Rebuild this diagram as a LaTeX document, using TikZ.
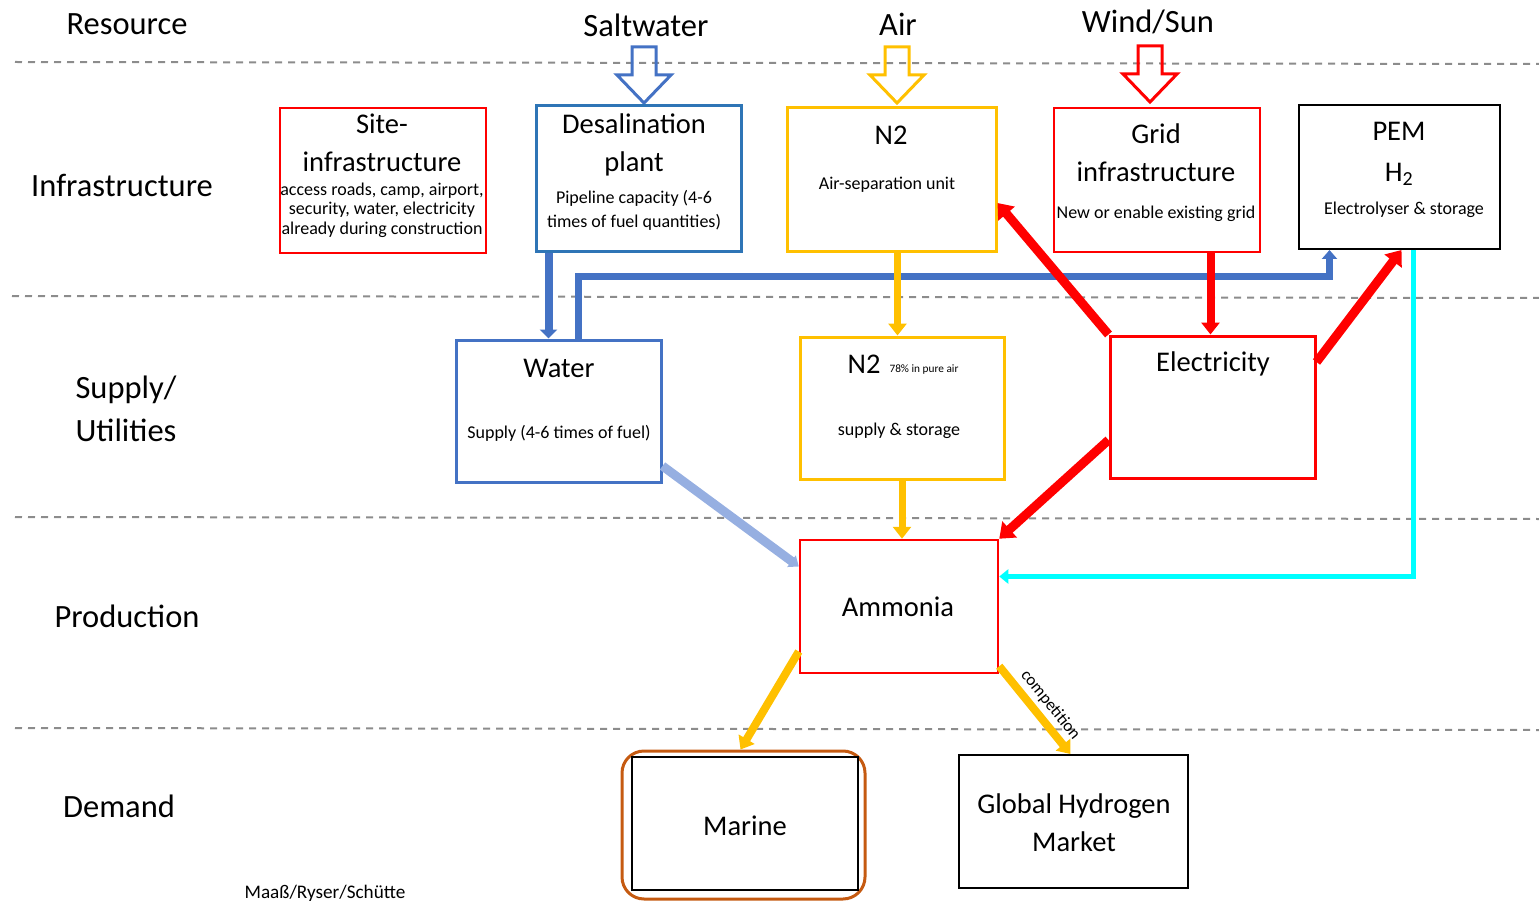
\documentclass[tikz,border=0pt]{standalone}
\usepackage{fontspec}
\setmainfont{Carlito}
\usetikzlibrary{arrows.meta}
\definecolor{pptblue}{RGB}{68,114,196}
\definecolor{deepblue}{RGB}{46,117,182}
\definecolor{hatchblue}{RGB}{150,175,225}
\definecolor{pptyellow}{RGB}{255,192,0}
\definecolor{pptorange}{RGB}{197,90,17}
\definecolor{pptcyan}{RGB}{0,255,255}
\definecolor{sepgray}{RGB}{140,140,140}
\tikzstyle{box}=[draw, line width=2.5, inner sep=0pt]
\tikzstyle{bigtext}=[font=\fontsize{32.5}{38}\selectfont, align=center, inner sep=0pt]
\tikzstyle{titletext}=[font=\fontsize{28.5}{38}\selectfont, align=center, inner sep=0pt]
\tikzstyle{smalltext}=[font=\fontsize{18}{24}\selectfont, align=center, inner sep=0pt]
\tikzstyle{sepline}=[sepgray, line width=2, dash pattern=on 7pt off 6pt]
\tikzstyle{flow}=[line width=7, -{Triangle[length=12pt,width=18pt]}]
\tikzset{resarrow/.pic={\draw[line width=3, line join=miter, #1] (-12,-56) -- (12,-56) -- (12,-28) -- (27,-28) -- (0,0) -- (-27,-28) -- (-12,-28) -- cycle;}}

\begin{document}
\begin{tikzpicture}[x=1pt,y=-1pt]
\useasboundingbox (0,0) rectangle (1539,901);
\draw[sepline] (15,62) -- (1539,64);
\draw[sepline] (12,296) -- (1539,298);
\draw[sepline] (15,517) -- (1539,519);
\draw[sepline] (15,728) -- (1539,730);
% row labels
\node[bigtext] (resource) at (127,24) {Resource};
\node[bigtext] (infra) at (122,185) {Infrastructure};
\node[bigtext, align=left, font=\fontsize{32.5}{43}\selectfont] (supply) at (126,409) {Supply/\\Utilities};
\node[bigtext] (production) at (127,616) {Production};
\node[bigtext] (demand) at (119,806) {Demand};
% resources
\node[bigtext] (salt) at (646,25) {Saltwater};
\node[bigtext] (air) at (898,24) {Air};
\node[bigtext] (windsun) at (1148,22) {Wind/Sun};
\pic at (644,103) {resarrow=pptblue};
\pic at (897,103) {resarrow=pptyellow};
\pic at (1150,102) {resarrow=red};
% infrastructure
\node[box, draw=red, minimum width=206, minimum height=145] (site) at (383,180.5) {};
\node[titletext] (site-t) at (382,143) {Site-\\infrastructure};
\node[smalltext, font=\fontsize{18}{19.5}\selectfont] (site-d) at (382,210) {access roads, camp, airport,\\security, water, electricity\\already during construction};
\node[box, draw=deepblue, line width=3, minimum width=205, minimum height=146] (desal) at (638.5,179) {};
\node[titletext] (desal-t) at (634,145) {Desalination\\plant};
\node[smalltext] (desal-d) at (634,210) {Pipeline capacity (4-6\\times of fuel quantities)};
\node[box, draw=pptyellow, line width=3, minimum width=209, minimum height=144] (asu) at (891.5,180) {};
\node[titletext] (asu-t) at (891,135) {N2};
\node[smalltext] (asu-d) at (887,185) {Air-separation unit};
\node[box, draw=red, minimum width=206, minimum height=144] (grid) at (1157,180) {};
\node[titletext] (grid-t) at (1156,153) {Grid\\infrastructure};
\node[smalltext] (grid-d) at (1156,214) {New or enable existing grid};
\node[box, draw=black, line width=2, minimum width=201, minimum height=144] (pem) at (1399.5,177) {};
\node[titletext, font=\fontsize{28.5}{41}\selectfont] (pem-t) at (1399,154) {PEM\\H\textsubscript{2}};
\node[smalltext] (pem-d) at (1404,210) {Electrolyser \& storage};
% supply
\node[box, draw=pptblue, line width=3, minimum width=205, minimum height=142] (water) at (558.5,411) {};
\node[titletext] (water-t) at (559,368) {Water};
\node[smalltext] (water-d) at (559,433) {Supply (4-6 times of fuel)};
\node[box, draw=pptyellow, line width=3, minimum width=204, minimum height=142] (n2s) at (902,408) {};
\node[titletext] (n2s-t) at (864,364) {N2};
\node[inner sep=0pt, font=\fontsize{11.3}{13}\selectfont] (n2s-n) at (924,370) {78\% in pure air};
\node[smalltext] (n2s-d) at (899,431) {supply \& storage};
\node[box, draw=red, line width=3, minimum width=205, minimum height=142] (elec) at (1212.5,407) {};
\node[titletext] (elec-t) at (1213,364) {Electricity};
% production
\node[box, draw=red, minimum width=198, minimum height=133] (ammonia) at (899,606.5) {};
\node[titletext] (ammonia-t) at (898,607) {Ammonia};
% demand
\node[box, draw=pptorange, line width=3, rounded corners=22, minimum width=243, minimum height=148] (marineout) at (743.5,825) {};
\node[box, draw=black, line width=2, minimum width=226, minimum height=133] (marine) at (745,823.5) {};
\node[titletext] (marine-t) at (745,826) {Marine};
\node[box, draw=black, line width=2, minimum width=229, minimum height=133] (global) at (1073.5,821.5) {};
\node[titletext] (global-t) at (1074,823) {Global Hydrogen\\Market};
\node[smalltext, font=\fontsize{19.2}{22}\selectfont] (credit) at (325,893) {Maaß/Ryser/Schütte};
% flows
\draw[flow, pptblue, line width=8, -{Triangle[length=9pt,width=17pt]}] ([xshift=-10pt]water.north |- desal.south) -- ([xshift=-10pt]water.north);
\draw[flow, pptblue, -{Triangle[length=9pt,width=15pt]}] ([xshift=20pt]water.north) -- ++(0,-62) -| ([xshift=-70pt]pem.south);
\draw[flow, pptyellow] ([xshift=6pt]asu.south) -- ([xshift=6pt]asu.south |- n2s.north);
\draw[flow, red, line width=8] ([xshift=-2pt]elec.north |- grid.south) -- ([xshift=-2pt]elec.north);
\draw[flow, red, line width=9, -{Triangle[length=14pt,width=21pt]}] (elec.north west) -- ([yshift=-23pt]asu.east);
\draw[flow, red, line width=9, -{Triangle[length=14pt,width=21pt]}] ([yshift=45pt]elec.east) -- ([xshift=2pt]pem.south);
\draw[flow, red, line width=9, -{Triangle[length=14pt,width=21pt]}] ([yshift=-33pt]elec.west) -- (ammonia.north east);
\draw[flow, pptyellow] (n2s.south) -- (n2s.south |- ammonia.north);
\draw[flow, hatchblue, line width=9, -{Triangle[length=9pt,width=14pt]}] ([yshift=-55pt]water.east) -- ([yshift=40pt]ammonia.west);
\draw[flow, pptcyan, line width=5, -{Triangle[length=9pt,width=14pt]}] ([xshift=14pt]pem.south) |- ([yshift=30pt]ammonia.east);
\draw[flow, pptyellow, line width=8] ([yshift=-45pt]ammonia.west) -- ([xshift=-3pt]marineout.north);
\draw[flow, pptyellow, line width=8] ([yshift=8pt]ammonia.south east) -- ([xshift=-3pt]global.north) node[pos=0.55, sloped, above, inner sep=4pt, text=black, font=\fontsize{17}{19}\selectfont] (comp) {competition};
\end{tikzpicture}
\end{document}
